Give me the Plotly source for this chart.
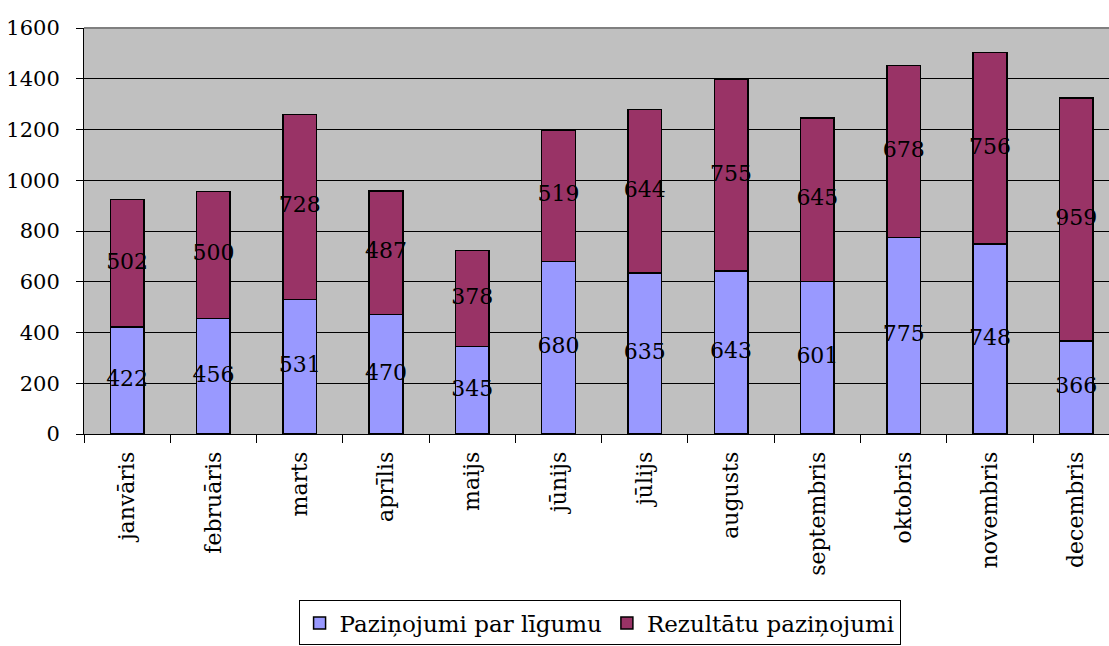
import plotly.graph_objects as go

months = ["janvāris", "februāris", "marts", "aprīlis", "maijs", "jūnijs",
          "jūlijs", "augusts", "septembris", "oktobris", "novembris", "decembris"]
contract_notices = [422, 456, 531, 470, 345, 680, 635, 643, 601, 775, 748, 366]
result_notices = [502, 500, 728, 487, 378, 519, 644, 755, 645, 678, 756, 959]

series_names = ["Paziņojumi par līgumu", "Rezultātu paziņojumi"]
colors = ["#9999FF", "#993366"]
FONT = "DejaVu Serif"

fig = go.Figure()
fig.add_trace(go.Bar(x=months, y=contract_notices, name=series_names[0],
                     marker=dict(color=colors[0], line=dict(color="black", width=1.5)),
                     width=0.39))
fig.add_trace(go.Bar(x=months, y=result_notices, name=series_names[1],
                     marker=dict(color=colors[1], line=dict(color="black", width=1.5)),
                     width=0.39))

# value labels centred in each segment
fig.add_trace(go.Scatter(x=months, y=[v / 2 for v in contract_notices],
                         text=[str(v) for v in contract_notices], mode="text",
                         textfont=dict(family=FONT, size=22, color="black"),
                         showlegend=False, hoverinfo="skip", cliponaxis=False))
fig.add_trace(go.Scatter(x=months,
                         y=[a + b / 2 for a, b in zip(contract_notices, result_notices)],
                         text=[str(v) for v in result_notices], mode="text",
                         textfont=dict(family=FONT, size=22, color="black"),
                         showlegend=False, hoverinfo="skip", cliponaxis=False))

fig.update_layout(
    barmode="stack",
    width=1109, height=646,
    margin=dict(l=84, r=0, t=28, b=212, autoexpand=False),
    paper_bgcolor="white",
    plot_bgcolor="#C0C0C0",
    font=dict(family=FONT, size=22, color="black"),
    legend=dict(orientation="h", x=0.503, xanchor="center", y=-0.41, yanchor="top",
                bordercolor="black", borderwidth=1, bgcolor="white",
                font=dict(family=FONT, size=23), itemwidth=30,
                traceorder="normal"),
    xaxis=dict(range=[-0.5, 11.38], tickangle=-90, tickson="boundaries",
               ticks="outside", ticklen=8, tickcolor="black",
               showline=True, linecolor="black", linewidth=1,
               showgrid=False, ticklabelstandoff=8, automargin=False,
               tickfont=dict(family=FONT, size=22)),
    yaxis=dict(range=[0, 1600], dtick=200, ticks="outside", ticklen=7,
               tickcolor="black", showline=True, linecolor="black", linewidth=1,
               gridcolor="black", gridwidth=1, zeroline=False,
               ticklabelstandoff=12, automargin=False,
               tickfont=dict(family=FONT, size=21)),
    shapes=[dict(type="line", xref="paper", yref="paper", x0=0, x1=1, y0=1, y1=1,
                 line=dict(color="#808080", width=2))],
)

fig.write_html("out.html", config={"displayModeBar": False},
               post_script="document.body.style.margin='0px';")
